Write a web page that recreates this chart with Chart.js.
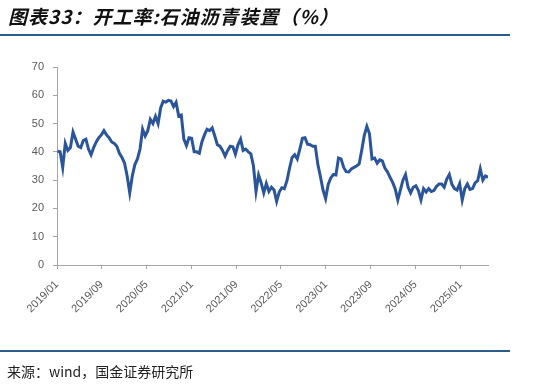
<!DOCTYPE html>
<html lang="zh-CN">
<head>
  <meta charset="UTF-8">
  <title>开工率:石油沥青装置</title>
  <style>
    body {
      margin: 0;
      background: #fff;
      width: 541px;
      height: 385px;
      overflow: hidden;
      position: relative;
      font-family: 'Noto Sans CJK SC', sans-serif;
    }
    .title {
      position: absolute;
      left: 8px;
      top: 2px;
      font-size: 19px;
      font-style: italic;
      font-weight: bold;
      letter-spacing: 1px;
      color: #111;
      white-space: nowrap;
    }
    .rule {
      position: absolute;
      left: 0;
      width: 510px;
      height: 2px;
      background: #2a5d8c;
    }
    .source {
      position: absolute;
      left: 7px;
      top: 361px;
      font-size: 14px;
      color: #222;
      white-space: nowrap;
    }
    #chart {
      position: absolute;
      left: 0;
      top: 0;
    }
  </style>
</head>
<body>
  <canvas id="chart" width="541" height="385"></canvas>
  <div class="title">图表33：开工率:石油沥青装置（%）</div>
  <div class="rule" style="top: 34px;"></div>
  <div class="rule" style="top: 350px;"></div>
  <div class="source">来源：wind，国金证券研究所</div>

  <script src="https://cdn.jsdelivr.net/npm/chart.js"></script>
  <script>
    // one reading every two weeks starting here
    const startDate = '2019-01-04';
    const stepDays = 14;

    // operating rate (%)
    const rate = [
      40.2, 40.0, 34.5, 43.0, 40.5, 41.5, 47.0, 44.5, 42.0, 41.5,
      44.0, 44.5, 41.0, 39.0, 41.5, 43.5, 45.0, 46.0, 47.5, 46.0,
      45.0, 43.5, 43.0, 42.0, 39.5, 38.0, 36.0, 31.5, 25.5, 31.5,
      35.5, 37.5, 41.0, 48.0, 45.6, 47.5, 51.5, 50.0, 52.5, 50.0,
      55.5, 57.9, 57.6, 58.2, 58.0, 56.0, 57.5, 52.7, 53.0, 44.5,
      42.2, 45.0, 44.8, 40.0, 40.0, 39.5, 43.5, 46.0, 48.0, 47.5,
      48.5, 45.6, 42.5, 42.0, 40.5, 38.5, 40.5, 42.0, 41.8, 39.2,
      42.5, 44.5, 40.5, 41.0, 40.0, 39.3, 35.0, 26.0, 31.8, 29.0,
      25.5, 28.8, 26.0, 27.5, 26.5, 22.5, 25.8, 27.3, 27.0, 29.8,
      34.2, 38.0, 39.0, 37.5, 41.0, 44.8, 45.0, 42.7, 42.5, 42.0,
      42.0, 35.5, 31.2, 26.5, 23.5, 28.5, 30.8, 32.0, 31.8, 37.8,
      37.5, 34.5, 33.0, 32.9, 34.0, 34.5, 35.0, 35.7, 40.5, 45.8,
      49.0, 46.5, 37.5, 37.8, 36.0, 37.2, 36.8, 34.3, 32.9, 31.0,
      29.2, 26.9, 23.0, 26.5, 30.0, 32.0, 27.5, 25.5, 27.5, 28.0,
      26.3, 23.0, 27.0, 25.8, 27.0, 26.0, 26.3, 27.8, 28.6, 28.6,
      27.5, 30.4, 32.0, 28.5, 27.0, 26.5, 28.8, 23.0, 27.0, 28.6,
      26.7, 27.0, 29.0, 29.8, 34.0, 30.0, 31.5, 31.0
    ];

    const tickLabels = ['2019/01', '2019/09', '2020/05', '2021/01', '2021/09',
                        '2022/05', '2023/01', '2023/09', '2024/05', '2025/01'];

    const yTicks = [0, 10, 20, 30, 40, 50, 60, 70];

    // x axis runs in days from 2019-01-01
    const DAY = 86400000;
    const origin = Date.UTC(2019, 0, 1);
    const startDay = (Date.parse(startDate + 'T00:00:00Z') - origin) / DAY;

    function monthDay(label) {
      const [y, m] = label.split('/').map(Number);
      return (Date.UTC(y, m - 1, 1) - origin) / DAY;
    }

    const points = rate.map((v, i) => ({ x: startDay + i * stepDays, y: v }));
    const tickDays = tickLabels.map(monthDay);
    const lastDay = points[points.length - 1].x;

    const axisGrey = '#a6a6a6';
    const labelGrey = '#595959';

    new Chart(document.getElementById('chart'), {
      type: 'line',
      data: {
        datasets: [{
          label: '开工率:石油沥青装置',
          data: points,
          borderColor: '#2b559b',
          borderWidth: 3,
          pointRadius: 0,
          tension: 0,
          fill: false
        }]
      },
      options: {
        responsive: false,
        animation: false,
        layout: { padding: { left: 0, right: 53, top: 67, bottom: 0 } },
        plugins: {
          legend: { display: false },
          tooltip: { enabled: false }
        },
        scales: {
          x: {
            type: 'linear',
            min: 0,
            max: lastDay,
            afterBuildTicks: axis => {
              axis.ticks = tickDays.map(v => ({ value: v }));
            },
            afterFit: axis => { axis.height = 120; },
            grid: { drawOnChartArea: false, drawTicks: true, tickLength: 4, color: axisGrey },
            border: { display: true, color: axisGrey, width: 1 },
            ticks: {
              autoSkip: false,
              maxRotation: 45,
              minRotation: 45,
              padding: 9,
              color: labelGrey,
              font: { family: 'Liberation Sans', size: 11 },
              callback: value => {
                const k = tickDays.indexOf(value);
                return k >= 0 ? tickLabels[k] : '';
              }
            }
          },
          y: {
            min: 0,
            max: 70,
            afterBuildTicks: axis => {
              axis.ticks = yTicks.map(v => ({ value: v }));
            },
            afterFit: axis => { axis.width = 57; },
            grid: { drawOnChartArea: false, drawTicks: true, tickLength: 4, color: axisGrey },
            border: { display: true, color: axisGrey, width: 1 },
            ticks: {
              padding: 9,
              color: labelGrey,
              font: { family: 'Liberation Sans', size: 11 }
            }
          }
        }
      }
    });
  </script>
</body>
</html>
